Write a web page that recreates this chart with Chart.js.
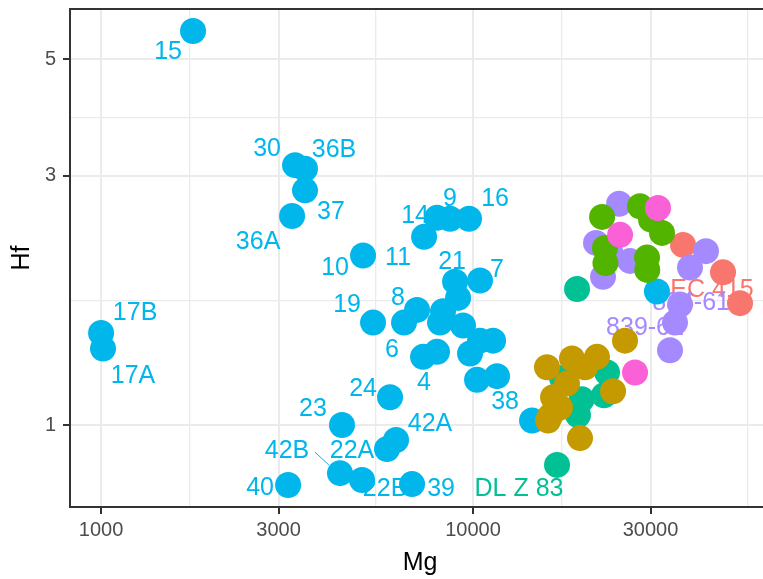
<!DOCTYPE html>
<html>
<head>
<meta charset="utf-8">
<script src="https://cdn.jsdelivr.net/npm/chart.js@4.4.1/dist/chart.umd.min.js"></script>
<style>
  html, body { margin: 0; padding: 0; background: #ffffff; overflow: hidden; }
  #chart { display: block; width: 770px; height: 579px; }
</style>
</head>
<body>
<canvas id="chart" width="770" height="579"></canvas>
<script>
// Mg and Hf per sample, one set of arrays per group
const mgRed = [36690, 46990, 52210];
const hfRed = [2.21, 1.96, 1.71];
const labRed = ['', '', 'EC 415'];

const mgOlive = [15810, 18450, 21540, 20000, 17890, 16410, 16110, 23790, 19390, 25620, 17130, 15910];
const hfOlive = [1.29, 1.34, 1.35, 1.29, 1.20, 1.13, 1.04, 1.16, 0.944, 1.45, 1.08, 1.02];
const labOlive = ['', '', '', '', '', '', '', '', '', '', '', ''];

const mgGreen = [22230, 28110, 30100, 32220, 22630, 22700, 29360, 29400];
const hfGreen = [2.50, 2.62, 2.47, 2.33, 2.18, 2.04, 2.09, 1.98];
const labGreen = ['', '', '', '', '', '', '', ''];

const mgTeal = [16820, 19040, 19150, 22920, 22500, 17350, 19600];
const hfTeal = [0.839, 1.82, 1.045, 1.26, 1.14, 1.23, 1.12];
const labTeal = ['DL Z 83', '', '', '', '', '', ''];

const mgBlue = [1767, 3323, 3534, 3534, 3262, 5062, 7385, 8002, 8674, 9755,
                8947, 10440, 7070, 6523, 5385, 7338, 8002, 8304, 9114, 9400,
                10440, 11320, 9815, 10250, 11600, 8152, 5982, 4443, 6209, 5872,
                4389, 5031, 3183, 6855, 14410, 31220, 1000, 1012];
const hfBlue = [5.67, 3.14, 3.09, 2.81, 2.51, 2.11, 2.29, 2.49, 2.48, 2.48,
                1.88, 1.89, 1.66, 1.57, 1.57, 1.35, 1.38, 1.65, 1.75, 1.55,
                1.45, 1.45, 1.37, 1.22, 1.24, 1.57, 1.13, 1.00, 0.936, 0.900,
                0.809, 0.785, 0.768, 0.771, 1.02, 1.80, 1.50, 1.40];
const labBlue = ['15', '30', '36B', '37', '36A', '10', '11', '14', '9', '16',
                 '21', '7', '8', '', '19', '6', '4', '', '', '',
                 '', '', '', '', '', '', '24', '23', '42A', '22A',
                 '42B', '22B', '40', '39', '38', '', '17B', '17A'];

const mgPurple = [24700, 21410, 23350, 26430, 22360, 42290, 38310, 36020, 34910, 33850];
const hfPurple = [2.65, 2.23, 2.15, 2.06, 1.92, 2.15, 2.00, 1.70, 1.57, 1.39];
const labPurple = ['', '', '', '', '', '', '', '834-61', '839-61', ''];

const mgPink = [27260, 24850, 31430];
const hfPink = [1.26, 2.31, 2.60];
const labPink = ['', '', ''];

// axis breaks
const mgMajor = [1000, 3000, 10000, 30000];
const mgMinor = [1732, 5477, 17321, 54772];
const hfMajor = [1, 3, 5];
const hfMinor = [1.732, 3.873];

// text placement of each point label, in pixels from its point
const labelOffsets = {
  '15': [-25, 21], '30': [-28, -16], '36B': [29, -19], '37': [26, 22], '36A': [-34, 26],
  '10': [-28, 13], '11': [-26, 21], '14': [-22, -2], '9': [0, -20], '16': [26, -20],
  '21': [-3, -20], '7': [17, -10], '17B': [34, -20], '17A': [30, 28], '19': [-26, -17],
  '8': [-19, -12], '6': [-31, -7], '4': [-13, 31], '24': [-27, -8], '23': [-29, -16],
  '38': [-27, -18], '42A': [34, -16], '42B': [-53, -22], '22A': [-35, 2], '22B': [23, 9],
  '40': [-28, 3], '39': [29, 5], 'DL Z 83': [-38, 24], '834-61': [11, -1],
  '839-61': [-30, 6], 'EC 415': [-28, -13]
};
// short leader segments from a label back to its point
const leaders = { '42B': [[-25, -21], [-11, -8]] };

// bottom to top drawing order
const groups = [
  { mg: mgTeal, hf: hfTeal, lab: labTeal, color: '#00C094' },
  { mg: mgBlue, hf: hfBlue, lab: labBlue, color: '#00B6EB' },
  { mg: mgRed, hf: hfRed, lab: labRed, color: '#F8766D' },
  { mg: mgPurple, hf: hfPurple, lab: labPurple, color: '#A58AFF' },
  { mg: mgGreen, hf: hfGreen, lab: labGreen, color: '#53B400' },
  { mg: mgPink, hf: hfPink, lab: labPink, color: '#FB61D7' },
  { mg: mgOlive, hf: hfOlive, lab: labOlive, color: '#C49A00' }
];

const datasets = groups.map((g, i) => ({
  data: g.mg.map((x, j) => ({ x: x, y: g.hf[j] })),
  backgroundColor: g.color,
  borderWidth: 0,
  pointRadius: 13,
  pointHoverRadius: 13,
  order: groups.length - i,
  pointLabels: g.lab
}));

const FONT = '"Liberation Sans", Arial, sans-serif';

const pointLabelPlugin = {
  id: 'pointLabels',
  beforeDatasetsDraw(chart) {
    const ctx = chart.ctx;
    ctx.save();
    ctx.font = '25px ' + FONT;
    ctx.textAlign = 'center';
    ctx.textBaseline = 'middle';
    chart.data.datasets.forEach((ds, i) => {
      const meta = chart.getDatasetMeta(i);
      ds.pointLabels.forEach((t, j) => {
        if (!t) return;
        const el = meta.data[j];
        const off = labelOffsets[t];
        ctx.fillStyle = ds.backgroundColor;
        ctx.fillText(t, el.x + off[0], el.y + off[1]);
        if (leaders[t]) {
          const [a, b] = leaders[t];
          ctx.strokeStyle = ds.backgroundColor;
          ctx.lineWidth = 1;
          ctx.beginPath();
          ctx.moveTo(el.x + a[0], el.y + a[1]);
          ctx.lineTo(el.x + b[0], el.y + b[1]);
          ctx.stroke();
        }
      });
    });
    ctx.restore();
  }
};

const panelBorderPlugin = {
  id: 'panelBorder',
  afterDatasetsDraw(chart) {
    const { ctx, chartArea: a } = chart;
    ctx.save();
    ctx.strokeStyle = '#333333';
    ctx.lineWidth = 2;
    ctx.strokeRect(a.left, a.top, a.right - a.left, a.bottom - a.top);
    ctx.restore();
  }
};

function axisOptions(major, minor, min, max, title, isX) {
  const all = major.concat(minor).sort((p, q) => p - q);
  return {
    type: 'logarithmic',
    min: min,
    max: max,
    afterBuildTicks(scale) { scale.ticks = all.map(v => ({ value: v })); },
    afterFit(scale) {
      if (isX) scale.height = 72; else scale.width = 70;
      scale.paddingLeft = 0;
      scale.paddingRight = 0;
      scale.paddingTop = 0;
      scale.paddingBottom = 0;
    },
    border: { display: false },
    grid: {
      color: '#EBEBEB',
      lineWidth: c => (c.tick && major.includes(c.tick.value)) ? 2 : 1.3,
      tickColor: c => (c.tick && major.includes(c.tick.value)) ? '#333333' : 'rgba(0,0,0,0)',
      tickWidth: 2,
      tickLength: 7,
      drawTicks: true
    },
    ticks: {
      autoSkip: false,
      maxRotation: 0,
      minRotation: 0,
      padding: isX ? 4 : 7,
      color: '#4D4D4D',
      font: { family: FONT, size: 20 },
      callback: v => major.includes(v) ? String(v) : ''
    },
    title: {
      display: true,
      text: title,
      color: '#000000',
      font: { family: FONT, size: 25 },
      padding: isX ? { top: 0, bottom: 1 } : { top: 7, bottom: 0 }
    }
  };
}

new Chart(document.getElementById('chart'), {
  type: 'scatter',
  data: { datasets: datasets },
  options: {
    responsive: false,
    maintainAspectRatio: false,
    devicePixelRatio: 1,
    animation: false,
    events: [],
    layout: { autoPadding: false, padding: { left: 0, right: 0, top: 9, bottom: 0 } },
    plugins: { legend: { display: false }, tooltip: { enabled: false } },
    scales: {
      x: axisOptions(mgMajor, mgMinor, 825, 62860, 'Mg', true),
      y: axisOptions(hfMajor, hfMinor, 0.697, 6.245, 'Hf', false)
    }
  },
  plugins: [pointLabelPlugin, panelBorderPlugin]
});
</script>
</body>
</html>
